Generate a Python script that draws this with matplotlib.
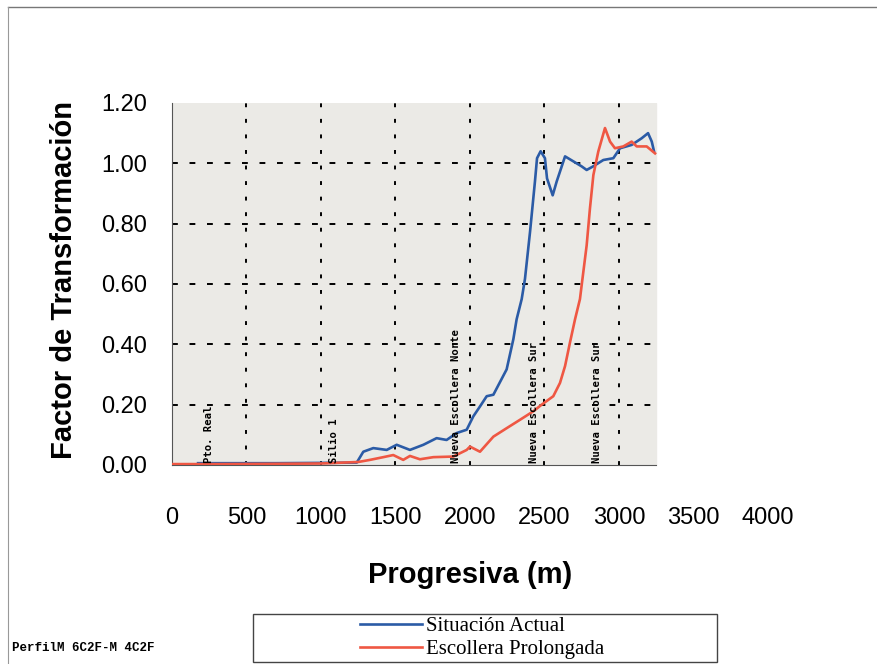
import matplotlib.pyplot as plt
from matplotlib.lines import Line2D
from matplotlib.patches import Rectangle

# progresiva (m) / factor de transformacion
actual_x = [175, 400, 700, 1000, 1240, 1284, 1351, 1441, 1508, 1597, 1687, 1776, 1843,
            1911, 1978, 2022, 2067, 2112, 2157, 2246, 2291, 2313, 2347, 2369, 2403,
            2436, 2450, 2474, 2503, 2517, 2555, 2582, 2638, 2692, 2749, 2783, 2827,
            2895, 2962, 3007, 3085, 3152, 3195, 3220, 3235]
actual_y = [0.006, 0.006, 0.006, 0.007, 0.008, 0.044, 0.056, 0.05, 0.067, 0.05, 0.067,
            0.089, 0.083, 0.106, 0.117, 0.161, 0.194, 0.228, 0.233, 0.317, 0.417,
            0.483, 0.55, 0.617, 0.773, 0.94, 1.017, 1.04, 1.017, 0.95, 0.894, 0.94,
            1.023, 1.007, 0.99, 0.978, 0.99, 1.011, 1.017, 1.05, 1.061, 1.083, 1.10,
            1.072, 1.04]

prolong_x = [0, 300, 700, 1000, 1250, 1329, 1418, 1485, 1552, 1597, 1664, 1754, 1888,
             1978, 2000, 2067, 2157, 2246, 2336, 2425, 2481, 2559, 2604, 2638, 2671,
             2705, 2738, 2749, 2783, 2805, 2828, 2861, 2906, 2940, 2973, 3029, 3085,
             3119, 3186, 3242]
prolong_y = [0.003, 0.003, 0.004, 0.005, 0.01, 0.017, 0.026, 0.033, 0.017, 0.03, 0.019,
             0.026, 0.028, 0.05, 0.061, 0.044, 0.094, 0.122, 0.15, 0.178, 0.2, 0.228,
             0.272, 0.328, 0.406, 0.483, 0.55, 0.594, 0.728, 0.85, 0.961, 1.039,
             1.117, 1.072, 1.05, 1.056, 1.072, 1.056, 1.056, 1.033]

marker_x = [250, 1090, 1905, 2430, 2855]
marker_names = ['Pto. Real', 'Silio 1', 'Nueva Escollera Norte',
                'Nueva Escollera Sur', 'Nueva Escollera Sur']

x_ticks = [0, 500, 1000, 1500, 2000, 2500, 3000, 3500, 4000]
y_ticks = [0.0, 0.2, 0.4, 0.6, 0.8, 1.0, 1.2]

plt.rcParams['font.family'] = ['Liberation Sans', 'DejaVu Sans']

fig = plt.figure(figsize=(8.78, 6.64), dpi=100)
ax = fig.add_axes([0.1959, 0.2997, 0.6788, 0.5452])

x_end = 3250
ax.axvspan(0, x_end, color='#ebeae6', zorder=0)
ax.hlines([0.2, 0.4, 0.6, 0.8, 1.0], 0, x_end, colors='black',
          linestyles=(0, (3, 6)), linewidth=1.4, zorder=1)
ax.vlines([500, 1000, 1500, 2000, 2500, 3000], 0, 1.2, colors='black',
          linestyles=(0, (2, 6)), linewidth=1.4, zorder=1)

ax.plot(actual_x, actual_y, color='#2b5ba6', linewidth=1.9, zorder=3,
        label='Situación Actual')
ax.plot(prolong_x, prolong_y, color='#ef5743', linewidth=1.9, zorder=3,
        label='Escollera Prolongada')

for xm, name in zip(marker_x, marker_names):
    ax.text(xm, 0.005, name, rotation=90, ha='center', va='bottom',
            fontsize=7.6, fontweight='bold', color='black', zorder=4,
            family='DejaVu Sans Mono')

ax.set_xlim(0, 4000)
ax.set_ylim(0, 1.2)
ax.set_xticks(x_ticks)
ax.set_yticks(y_ticks)
ax.set_yticklabels([f'{v:.2f}' for v in y_ticks])
ax.tick_params(axis='both', length=0, labelsize=17)
ax.tick_params(axis='y', pad=18)
ax.tick_params(axis='x', pad=30)

ax.set_facecolor('white')
for side in ['top', 'right']:
    ax.spines[side].set_visible(False)
ax.spines['bottom'].set_bounds(0, x_end)
ax.spines['left'].set_color('#555555')
ax.spines['bottom'].set_color('#555555')

ax.set_xlabel('Progresiva (m)', fontsize=21, fontweight='bold', labelpad=23)
ax.set_ylabel('Factor de Transformación', fontsize=21, fontweight='bold')
ax.yaxis.set_label_coords(-0.158, 0.51)

# page frame lines from the scan
fig.add_artist(Line2D([8 / 878, 1], [1 - 7 / 664, 1 - 7 / 664], color='#777777', linewidth=1))
fig.add_artist(Line2D([8 / 878, 8 / 878], [0, 1 - 7 / 664], color='#999999', linewidth=0.8))

# legend box
fig.add_artist(Rectangle((253 / 878, 1 - 662 / 664), 464 / 878, 48 / 664,
                         transform=fig.transFigure, fill=False,
                         edgecolor='#444444', linewidth=1))
fig.legend(loc='center', bbox_to_anchor=(482 / 878, 1 - 638 / 664), frameon=False,
           prop={'family': 'Liberation Serif', 'size': 15}, handlelength=3.0,
           handletextpad=0.2, labelspacing=0.15, borderpad=0)

fig.text(12 / 878, 1 - 648 / 664, 'PerfilM 6C2F-M 4C2F', fontsize=9,
         family='Liberation Mono', fontweight='bold', va='center', ha='left')

fig.savefig('out.png', dpi=100)
